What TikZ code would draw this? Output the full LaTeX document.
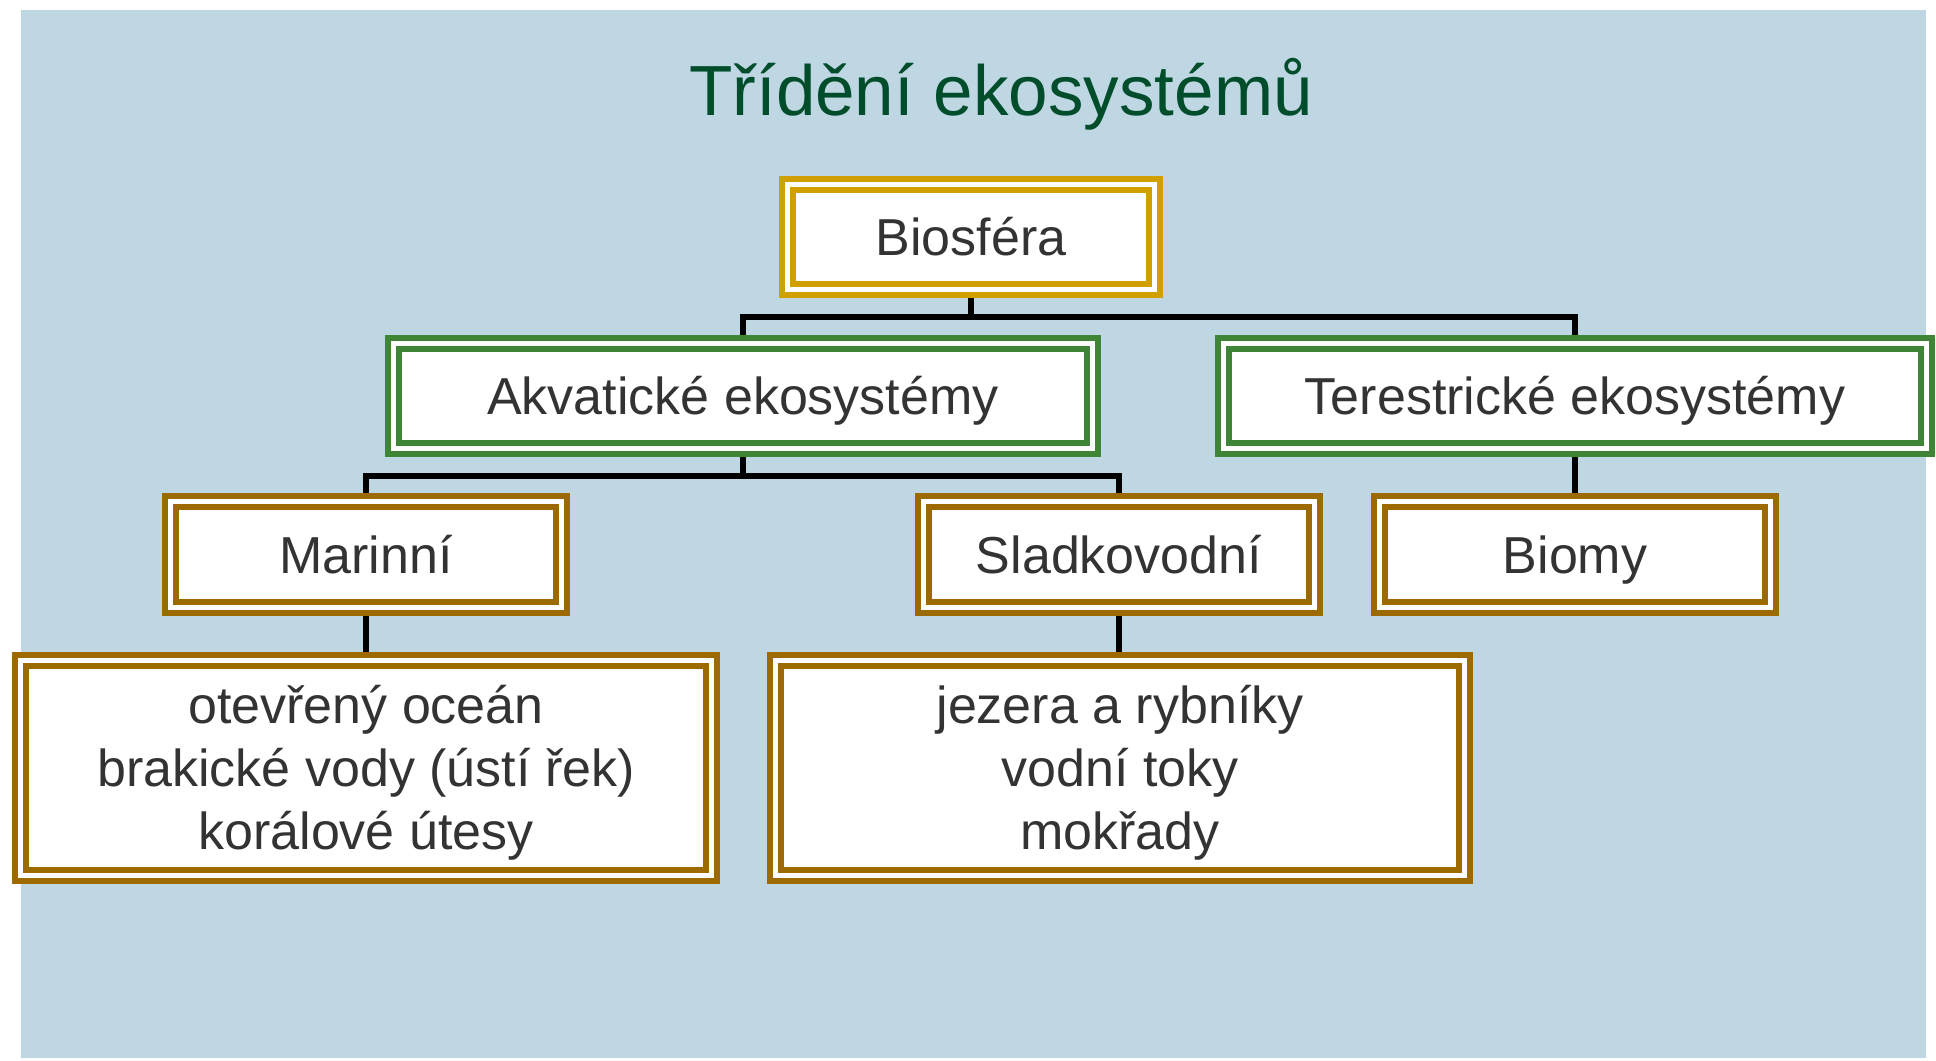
\documentclass[tikz,border=0pt]{standalone}
\usepackage{fontspec}
\setmainfont{Liberation Sans}
\definecolor{skyback}{HTML}{BED7E3}
\definecolor{goldline}{HTML}{D29F00}
\definecolor{greenline}{HTML}{3E8535}
\definecolor{brownline}{HTML}{9C6A00}
\definecolor{titlegreen}{HTML}{004D2B}
\definecolor{inktext}{HTML}{333333}
\tikzset{
  eco/.style={draw=#1, line width=3pt, double=white, double distance=2.5pt,
    fill=white, inner sep=0pt, outer sep=4.25pt, text=inktext,
    font=\fontsize{26}{31.5}\selectfont, text height=18.7pt, text depth=0pt},
  ecosmall/.style={eco=brownline, minimum width=195.5pt, minimum height=53pt},
  ecobig/.style={eco=brownline, minimum height=107.5pt, align=center,
    text height=81.7pt},
  link/.style={line width=2.8pt, black}
}
\begin{document}
\begin{tikzpicture}[x=0.5pt, y=-0.5pt]
\useasboundingbox (0,0) rectangle (1936,1060);
\fill[skyback] (21,10) rectangle (1926,1058);

\node[text=titlegreen, font=\fontsize{35.5}{40}\selectfont] (title) at (1001,94) {Třídění ekosystémů};

\node[eco=goldline, minimum width=183.5pt, minimum height=52.5pt] (bio) at (971,237) {Biosféra};
\node[eco=greenline, minimum width=349.5pt, minimum height=52.5pt] (akv) at (743,396) {Akvatické ekosystémy};
\node[eco=greenline, minimum width=351.5pt, minimum height=52.5pt] (ter) at (1575,396) {Terestrické ekosystémy};
\node[ecosmall] (mar) at (366,554.5) {Marinní};
\node[ecosmall] (sla) at (1119,554.5) {Sladkovodní};
\node[ecosmall] (bim) at (1575,554.5) {Biomy};
\node[ecobig, minimum width=345.5pt] (mor) at (366,768) {otevřený oceán\\brakické vody (ústí řek)\\korálové útesy};
\node[ecobig, minimum width=344.5pt] (sla2) at (1120,768) {jezera a rybníky\\vodní toky\\mokřady};

% spojnice
\draw[link] (bio.south) -- ++(0,19) -| (akv.north);
\draw[link] (bio.south) -- ++(0,19) -| (ter.north);
\draw[link] (akv.south) -- ++(0,19) -| (mar.north);
\draw[link] (akv.south) -- ++(0,19) -| (sla.north);
\draw[link] (ter.south) -- (bim.north);
\draw[link] (mar.south) -- (mor.north);
\draw[link] (sla.south) -- (sla.south |- sla2.north);
\end{tikzpicture}
\end{document}
